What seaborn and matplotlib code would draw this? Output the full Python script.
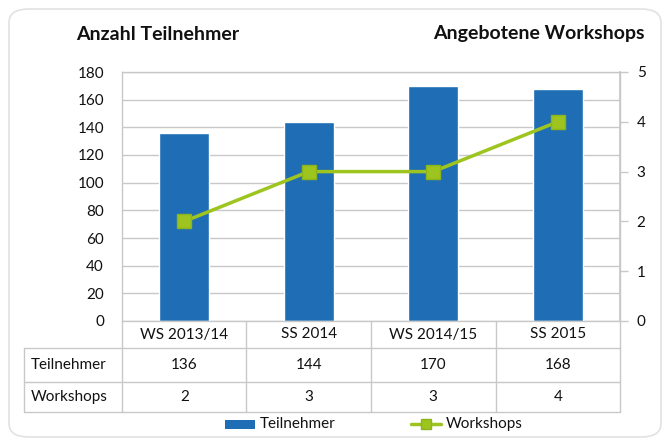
import matplotlib
matplotlib.use("Agg")
import matplotlib.pyplot as plt
import seaborn as sns
import pandas as pd
from matplotlib.patches import FancyBboxPatch, Rectangle
from matplotlib.lines import Line2D

categories = ["WS 2013/14", "SS 2014", "WS 2014/15", "SS 2015"]
teilnehmer = [136, 144, 170, 168]
workshops = [2, 3, 3, 4]
left_ticks = [0, 20, 40, 60, 80, 100, 120, 140, 160, 180]
right_ticks = [0, 1, 2, 3, 4, 5]
row_labels = ["Teilnehmer", "Workshops"]

sns.set_theme(style="white")
plt.rcParams["font.family"] = ["Lato", "DejaVu Sans"]

BLUE = "#1F6EB5"
GREEN = "#9DC41F"
GRID = "#C8C8C8"
W, H = 667, 446

fig = plt.figure(figsize=(6.67, 4.46), dpi=100)
fig.patch.set_facecolor("white")

def fx(x):
    return x / W

def fy(y):
    return 1 - y / H

# rounded frame
frame = FancyBboxPatch((fx(9), fy(437)), fx(652), (437 - 9) / H,
                       boxstyle="round,pad=0,rounding_size=0.03",
                       transform=fig.transFigure, facecolor="white",
                       edgecolor="#E2E2E2", linewidth=1.2, zorder=-10)
fig.patches.append(frame)

L, R, T, B = 122, 620, 72, 321
ax = fig.add_axes([fx(L), fy(B), fx(R - L), (B - T) / H])
ax.set_facecolor("none")

df = pd.DataFrame({"cat": categories, "Teilnehmer": teilnehmer, "Workshops": workshops})
sns.barplot(data=df, x="cat", y="Teilnehmer", color=BLUE, width=0.4,
            saturation=1, ax=ax, zorder=3)
ax.set_xlim(-0.5, 3.5)
ax.set_ylim(0, 180)
ax.set_yticks(left_ticks)
ax.set_yticklabels([str(t) for t in left_ticks], fontsize=11, color="#111111")
ax.set_xticks([])
ax.set_xlabel("")
ax.set_ylabel("")
ax.yaxis.grid(True, color=GRID, linewidth=1)
ax.set_axisbelow(True)
for s in ["left", "right", "top"]:
    ax.spines[s].set_visible(True)
    ax.spines[s].set_color(GRID)
    ax.spines[s].set_linewidth(1)
ax.spines["bottom"].set_visible(False)
ax.tick_params(axis="y", length=0, pad=13)

ax2 = ax.twinx()
sns.lineplot(data=df, x="cat", y="Workshops", color=GREEN, linewidth=2.5,
             marker="s", markersize=10, markerfacecolor=GREEN,
             markeredgecolor="#8DB41A", markeredgewidth=1, ax=ax2, zorder=5)
ax2.set_ylim(0, 5)
ax2.set_yticks(right_ticks)
ax2.set_yticklabels([str(t) for t in right_ticks], fontsize=11, color="#111111")
ax2.set_xlabel("")
ax2.set_ylabel("")
ax2.grid(False)
for s in ["left", "top", "bottom"]:
    ax2.spines[s].set_visible(False)
ax2.spines["right"].set_color(GRID)
ax2.tick_params(axis="y", length=6, width=1, color=GRID, pad=6, direction="out")
ax2.set_xlim(-0.5, 3.5)

# titles
fig.text(fx(76), fy(34), "Anzahl Teilnehmer", fontsize=14, fontweight="bold",
         ha="left", va="center", color="#111111")
fig.text(fx(645), fy(34), "Angebotene Workshops", fontsize=14, fontweight="bold",
         ha="right", va="center", color="#111111")

# data table
tl = dict(color=GRID, linewidth=1, transform=fig.transFigure)
col_w = (R - L) / len(categories)
rows_y = [321, 348, 382, 412]
lab_x0 = 24
fig.add_artist(Line2D([fx(L), fx(R)], [fy(321), fy(321)], **tl))
for yy in rows_y[1:]:
    fig.add_artist(Line2D([fx(lab_x0), fx(R)], [fy(yy), fy(yy)], **tl))
for i in range(len(categories) + 1):
    xx = L + i * col_w
    fig.add_artist(Line2D([fx(xx), fx(xx)], [fy(321), fy(412)], **tl))
fig.add_artist(Line2D([fx(lab_x0), fx(lab_x0)], [fy(348), fy(412)], **tl))

for i, c in enumerate(categories):
    cx = L + (i + 0.5) * col_w
    fig.text(fx(cx), fy(334.5), c, fontsize=11, ha="center", va="center", color="#111111")
    fig.text(fx(cx), fy(365), str(teilnehmer[i]), fontsize=11, ha="center", va="center", color="#111111")
    fig.text(fx(cx), fy(397), str(workshops[i]), fontsize=11, ha="center", va="center", color="#111111")
fig.text(fx(31), fy(365), row_labels[0], fontsize=11, ha="left", va="center", color="#111111")
fig.text(fx(31), fy(397), row_labels[1], fontsize=11, ha="left", va="center", color="#111111")

# legend
fig.add_artist(Rectangle((fx(225), fy(429)), fx(30), 9 / H, transform=fig.transFigure,
                         facecolor=BLUE, edgecolor="none"))
fig.text(fx(260), fy(424), "Teilnehmer", fontsize=11, ha="left", va="center", color="#111111")
fig.add_artist(Line2D([fx(411), fx(441)], [fy(424), fy(424)], color=GREEN, linewidth=2.5,
                      transform=fig.transFigure))
fig.add_artist(Line2D([fx(426)], [fy(424)], color=GREEN, marker="s", markersize=7,
                      markeredgecolor="#8DB41A", transform=fig.transFigure))
fig.text(fx(446), fy(424), "Workshops", fontsize=11, ha="left", va="center", color="#111111")

fig.savefig("out.png", dpi=100)
